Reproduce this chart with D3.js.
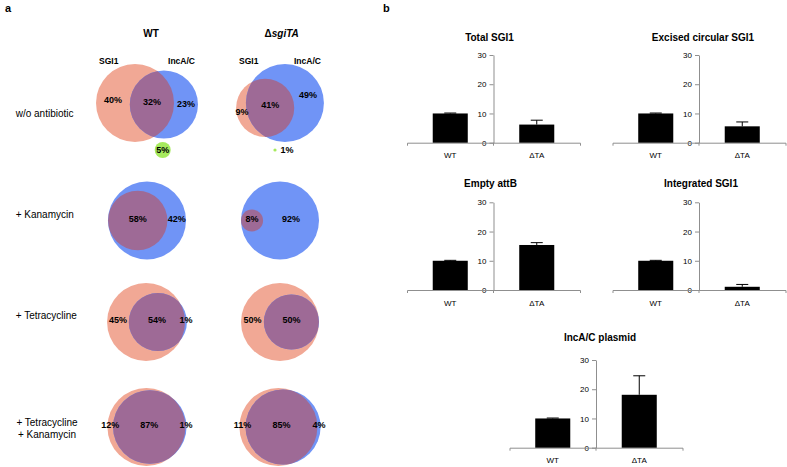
<!DOCTYPE html>
<html><head><meta charset="utf-8">
<script src="https://cdn.jsdelivr.net/npm/d3@7"></script>
<style>
body{margin:0;background:#fff}
svg{display:block;font-family:"Liberation Sans",Arial,Helvetica,sans-serif}
</style>
</head><body>
<svg id="c" width="787" height="467"></svg>
<script>
// ---------- Panel a data (Venn percentages) ----------
const strains = ["WT", "ΔsgiTA"];
const conditions = ["w/o antibiotic", "+ Kanamycin", "+ Tetracycline", "+ Tetracycline|+ Kanamycin"];
const setNames = ["SGI1", "IncA/C"];
const sgi1Only = [[40, 9], [0, 0], [45, 50], [12, 11]];
const bothSets = [[32, 41], [58, 8], [54, 50], [87, 85]];
const incOnly  = [[23, 49], [42, 92], [1, 0], [1, 4]];
const neither  = [[5, 1], [0, 0], [0, 0], [0, 0]];

// ---------- Panel b data (bar charts) ----------
const categories = ["WT", "ΔTA"];
const panelTitles = ["Total SGI1", "Excised circular SGI1", "Empty attB", "Integrated SGI1", "IncA/C plasmid"];
const wtValues = [10, 10, 10, 10, 10];
const taValues = [6.2, 5.6, 15.4, 1.1, 18.1];
const wtErrors = [0.15, 0.15, 0.15, 0.15, 0.15];
const taErrors = [1.5, 1.5, 0.8, 0.8, 6.5];
const yTicks = [0, 10, 20, 30];

// ---------- styles / layout ----------
const C = {sgi: "#f1a895", inc: "#7094f6", both: "#9e6a96", none: "#a6ea5e", axis: "#8f8f8f"};
const svg = d3.select("#c");

svg.append("text").attr("x", 5).attr("y", 12).attr("font-size", 11).attr("font-weight", "bold").text("a");
svg.append("text").attr("x", 383).attr("y", 12).attr("font-size", 11).attr("font-weight", "bold").text("b");

// ===== Panel a =====
const colX = [147, 280];
const rowY = [103, 220.5, 322, 427];
const tiltDeg = [[3, -14], [0, 0], [0, 0], [0, 0]];
const maxR = 39;
const neitherDx = [15.7, -5], neitherY = 150;

// headers
const hdr = svg.append("g").attr("font-size", 10).attr("font-weight", "bold").attr("text-anchor", "middle");
hdr.append("text").attr("x", 151).attr("y", 36.5).text(strains[0]);
const h2 = hdr.append("text").attr("x", 281.7).attr("y", 36.5);
h2.append("tspan").text(strains[1].slice(0, 1));
h2.append("tspan").attr("font-style", "italic").text(strains[1].slice(1));

// row labels
conditions.forEach((c, i) => {
  const lines = c.split("|");
  const t = svg.append("text").attr("font-size", 10)
    .attr("text-anchor", lines.length > 1 ? "middle" : "start")
    .attr("x", lines.length > 1 ? 47 : 15.7);
  lines.forEach((l, k) => {
    t.append("tspan").attr("x", lines.length > 1 ? 47 : 15.7)
      .attr("y", lines.length > 1 ? rowY[i] - 1.5 + k * 12.4 : rowY[i] + (i === 0 ? 14 : -2.8) + (i === 2 ? 0 : 0))
      .text(l);
  });
});

function lensArea(r1, r2, d) {
  if (d >= r1 + r2) return 0;
  if (d <= Math.abs(r1 - r2)) return Math.PI * Math.min(r1, r2) ** 2;
  const a1 = r1 * r1 * Math.acos((d * d + r1 * r1 - r2 * r2) / (2 * d * r1));
  const a2 = r2 * r2 * Math.acos((d * d + r2 * r2 - r1 * r1) / (2 * d * r2));
  const a3 = 0.5 * Math.sqrt((-d + r1 + r2) * (d + r1 - r2) * (d - r1 + r2) * (d + r1 + r2));
  return a1 + a2 - a3;
}
function solveD(r1, r2, A) {
  const full = Math.PI * Math.min(r1, r2) ** 2;
  if (A >= full - 1e-6) return Math.abs(r1 - r2);
  if (A <= 0) return r1 + r2;
  let lo = Math.abs(r1 - r2), hi = r1 + r2;
  for (let k = 0; k < 60; k++) {
    const m = (lo + hi) / 2;
    if (lensArea(r1, r2, m) > A) lo = m; else hi = m;
  }
  return (lo + hi) / 2;
}

const defs = svg.append("defs");
const pctFmt = v => v + "%";

conditions.forEach((cond, i) => {
  strains.forEach((st, j) => {
    const so = sgi1Only[i][j], bo = bothSets[i][j], io = incOnly[i][j], ne = neither[i][j];
    const sT = so + bo, iT = io + bo;
    const r = d3.scaleSqrt().domain([0, Math.max(sT, iT)]).range([0, maxR]);
    const r1 = r(sT), r2 = r(iT);
    const A = Math.PI * r(bo) ** 2;
    const d = solveD(r1, r2, A);
    const th = tiltDeg[i][j] * Math.PI / 180;
    const ux = Math.cos(th), uy = Math.sin(th);
    const c2 = [d * ux, d * uy];
    const xmin = Math.min(-r1, c2[0] - r2), xmax = Math.max(r1, c2[0] + r2);
    const ymin = Math.min(-r1, c2[1] - r2), ymax = Math.max(r1, c2[1] + r2);
    const ox = colX[j] - (xmin + xmax) / 2, oy = rowY[i] - (ymin + ymax) / 2;
    const g = svg.append("g").attr("transform", `translate(${ox},${oy})`);
    const id = `clip${i}${j}`;
    defs.append("clipPath").attr("id", id).append("circle").attr("cx", 0).attr("cy", 0).attr("r", r1);
    g.append("circle").attr("cx", 0).attr("cy", 0).attr("r", r1).attr("fill", C.sgi);
    g.append("circle").attr("cx", c2[0]).attr("cy", c2[1]).attr("r", r2).attr("fill", C.inc);
    g.append("circle").attr("cx", c2[0]).attr("cy", c2[1]).attr("r", r2).attr("fill", C.both)
      .attr("clip-path", `url(#${id})`);

    // label positions along the centre line
    const L1 = -r1, L2 = d - r2, R1 = r1, R2 = d + r2;
    const labels = [];
    if (so > 0) labels.push([(L1 + L2) / 2, so]);
    if (bo > 0) labels.push([(Math.max(L1, L2) + Math.min(R1, R2)) / 2, bo]);
    if (io > 0) labels.push([(R1 + R2) / 2, io]);
    labels.forEach(([s, v]) => {
      g.append("text").attr("x", s * ux).attr("y", s * uy - 2).attr("dy", "0.35em")
        .attr("text-anchor", "middle").attr("font-size", 9).attr("font-weight", "bold").text(pctFmt(v));
    });

    if (i === 0) {
      svg.append("text").attr("x", ox + L1 + 3).attr("y", 63.5).attr("font-size", 8.5).attr("font-weight", "bold").text(setNames[0]);
      svg.append("text").attr("x", ox + c2[0] + r2 - 3).attr("y", 63.5).attr("text-anchor", "end")
        .attr("font-size", 8.5).attr("font-weight", "bold").text(setNames[1]);
    }
    if (ne > 0) {
      const nr = d3.scaleLinear().domain([0, 5]).range([0, 8])(ne);
      const nx = colX[j] + neitherDx[j];
      svg.append("circle").attr("cx", nx).attr("cy", neitherY).attr("r", nr).attr("fill", C.none);
      const big = nr >= 6;
      svg.append("text").attr("x", big ? nx : nx + nr + 4).attr("y", neitherY).attr("dy", "0.35em")
        .attr("text-anchor", big ? "middle" : "start").attr("font-size", 9).attr("font-weight", "bold").text(pctFmt(ne));
    }
  });
});

// ===== Panel b =====
const panelPos = [[407, 142.7], [612.5, 142.7], [407, 290], [612.5, 290], [509.5, 447.7]];
const titleDx = [-4, 4, -3, 2, 4];
const titleUp = [14, 14, 15.5, 15.5, 19];
const pw = 173, ph = 87.7;
const x = d3.scaleBand().domain(categories).range([0, pw]);
const y = d3.scaleLinear().domain([0, 30]).range([ph, 0]);
const barFrac = 0.405;

panelTitles.forEach((title, p) => {
  const [x0, y0] = panelPos[p];
  const g = svg.append("g").attr("transform", `translate(${x0},${y0 - ph})`);
  g.append("text").attr("x", pw / 2 + titleDx[p]).attr("y", -titleUp[p])
    .attr("text-anchor", "middle").attr("font-size", 10).attr("font-weight", "bold").text(title);

  // y axis at the centre
  const ya = g.append("g").attr("transform", `translate(${pw / 2},0)`)
    .call(d3.axisLeft(y).tickValues(yTicks).tickSize(4).tickSizeOuter(0).tickPadding(3));
  ya.select(".domain").attr("stroke", C.axis);
  ya.selectAll(".tick line").attr("stroke", C.axis);
  ya.selectAll(".tick text").attr("font-size", 8).attr("fill", "#000").attr("font-family", null);
  g.append("line").attr("x1", pw / 2).attr("x2", pw / 2).attr("y1", ph).attr("y2", ph + 3).attr("stroke", C.axis);

  // x axis
  const xa = g.append("g").attr("transform", `translate(0,${ph})`)
    .call(d3.axisBottom(x).tickSize(0).tickSizeOuter(3).tickPadding(10));
  xa.select(".domain").attr("stroke", C.axis);
  xa.selectAll(".tick text").attr("font-size", 8).attr("fill", "#000").attr("font-family", null);

  const vals = [wtValues[p], taValues[p]];
  const errs = [wtErrors[p], taErrors[p]];
  const bw = x.bandwidth() * barFrac;
  categories.forEach((cat, k) => {
    const cx = x(cat) + x.bandwidth() / 2;
    g.append("rect").attr("x", cx - bw / 2).attr("y", y(vals[k])).attr("width", bw)
      .attr("height", y(0) - y(vals[k])).attr("fill", "#000");
    const top = y(vals[k] + errs[k]);
    g.append("line").attr("x1", cx).attr("x2", cx).attr("y1", y(vals[k])).attr("y2", top).attr("stroke", "#000");
    g.append("line").attr("x1", cx - 6).attr("x2", cx + 6).attr("y1", top).attr("y2", top).attr("stroke", "#000");
  });
});
</script>
</body></html>
